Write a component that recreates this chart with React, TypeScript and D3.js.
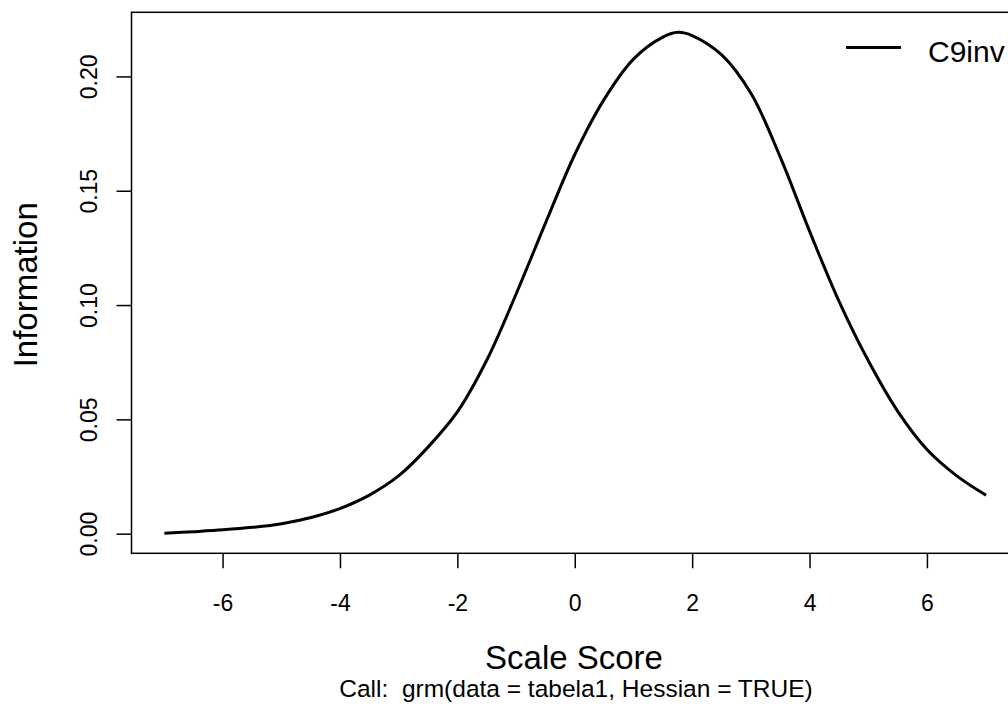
import React from "react";
import * as d3 from "d3";

// Test information curve for item C9inv
const theta: number[] = [
  -7, -6.5, -6, -5.5, -5, -4.5, -4, -3.5, -3, -2.5, -2, -1.5, -1, -0.5, 0, 0.5,
  1, 1.5, 1.75, 2, 2.5, 3, 3.5, 4, 4.5, 5, 5.5, 6, 6.5, 7,
];
const information: number[] = [
  0.0004, 0.0011, 0.0019, 0.003, 0.0046, 0.0073, 0.0113, 0.0172, 0.0257,
  0.0383, 0.0538, 0.0765, 0.1055, 0.1365, 0.1665, 0.1905, 0.208, 0.2175,
  0.2195, 0.218, 0.2095, 0.1925, 0.1645, 0.132, 0.1015, 0.0755, 0.0535,
  0.0368, 0.0255, 0.017,
];
const xTicks: number[] = [-6, -4, -2, 0, 2, 4, 6];
const yTicks: number[] = [0, 0.05, 0.1, 0.15, 0.2];
const seriesName = "C9inv";
const xLabel = "Scale Score";
const yLabel = "Information";
const subLabel = "Call:  grm(data = tabela1, Hessian = TRUE)";

const W = 1008;
const H = 707;
const plot = { left: 131.5, right: 1019, top: 12.3, bottom: 553.3 };
const FONT = "Liberation Sans, Arial, sans-serif";

function pad(ext: [number, number]): [number, number] {
  const r = ext[1] - ext[0];
  return [ext[0] - 0.04 * r, ext[1] + 0.04 * r];
}

export default function App() {
  const x = d3
    .scaleLinear()
    .domain(pad(d3.extent(theta) as [number, number]))
    .range([plot.left, plot.right]);
  const y = d3
    .scaleLinear()
    .domain(pad(d3.extent(information) as [number, number]))
    .range([plot.bottom, plot.top]);

  const pts = theta.map((t, i) => [t, information[i]] as [number, number]);
  const line = d3
    .line<[number, number]>()
    .x((d) => x(d[0]))
    .y((d) => y(d[1]))
    .curve(d3.curveCatmullRom.alpha(0.5));

  const midY = (plot.top + plot.bottom) / 2;

  return (
    <svg
      width={W}
      height={H}
      style={{ position: "absolute", left: 0, top: 0, background: "#fff" }}
      fontFamily={FONT}
    >
      <rect x={0} y={0} width={W} height={H} fill="#fff" />
      <path d={line(pts) ?? ""} fill="none" stroke="#000" strokeWidth={3} strokeLinejoin="round" />
      <rect
        x={plot.left}
        y={plot.top}
        width={plot.right - plot.left}
        height={plot.bottom - plot.top}
        fill="none"
        stroke="#000"
        strokeWidth={1.5}
      />
      {xTicks.map((t) => (
        <g key={"x" + t}>
          <line x1={x(t)} x2={x(t)} y1={plot.bottom} y2={plot.bottom + 15} stroke="#000" strokeWidth={1.5} />
          <text x={x(t)} y={611} textAnchor="middle" fontSize={23} fill="#000">
            {t}
          </text>
        </g>
      ))}
      {yTicks.map((t) => (
        <g key={"y" + t}>
          <line x1={plot.left - 15} x2={plot.left} y1={y(t)} y2={y(t)} stroke="#000" strokeWidth={1.5} />
          <text
            transform={`translate(97,${y(t)}) rotate(-90)`}
            textAnchor="middle"
            fontSize={23}
            fill="#000"
          >
            {t.toFixed(2)}
          </text>
        </g>
      ))}
      <text x={574} y={669} textAnchor="middle" fontSize={33} fill="#000">
        {xLabel}
      </text>
      <text
        x={576}
        y={697}
        textAnchor="middle"
        fontSize={24.5}
        fill="#000"
        style={{ whiteSpace: "pre" }}
      >
        {subLabel}
      </text>
      <text
        transform={`translate(37,${midY + 2}) rotate(-90)`}
        textAnchor="middle"
        fontSize={33}
        fill="#000"
      >
        {yLabel}
      </text>
      <line x1={846} x2={901} y1={47.5} y2={47.5} stroke="#000" strokeWidth={3} />
      <text x={928} y={62} fontSize={30} fill="#000">
        {seriesName}
      </text>
    </svg>
  );
}
